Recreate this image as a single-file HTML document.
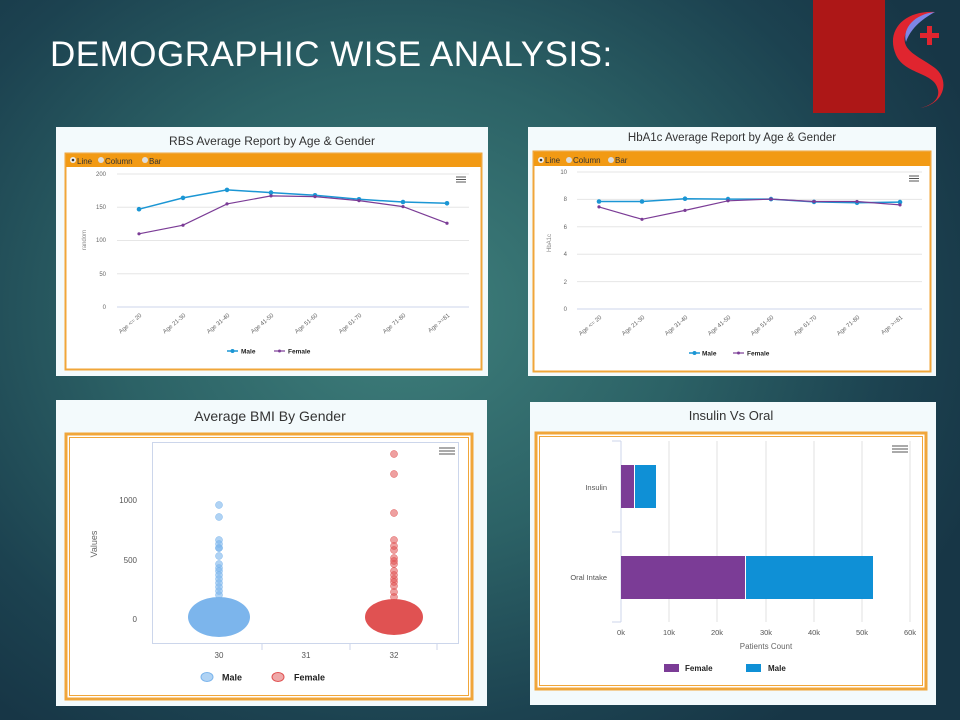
<!DOCTYPE html>
<html><head><meta charset="utf-8"><style>
html,body{margin:0;padding:0;width:960px;height:720px;overflow:hidden;}
body{background:radial-gradient(ellipse 620px 520px at 400px 310px,#3f807c 0%,#2c6266 45%,#1c4250 80%,#173646 100%);font-family:"Liberation Sans",sans-serif;}
svg{position:absolute;left:0;top:0}
</style></head><body>
<svg width="960" height="720" viewBox="0 0 960 720" font-family="Liberation Sans, sans-serif">
<!-- title -->
<text x="50" y="66" fill="#ffffff" font-size="35" letter-spacing="0.5">DEMOGRAPHIC WISE ANALYSIS:</text>
<!-- logo -->
<rect x="813" y="0" width="72" height="113" fill="#ad1717"/>
<path d="M935,12 C905,10 885,30 896,55 C905,75 935,72 938,90 C940,100 930,106 920,108 C945,104 950,80 935,68 C918,55 896,50 908,28 C914,18 925,14 935,12Z" fill="#e0252f"/>
<path d="M935,12 C915,14 902,28 906,42 C910,30 920,20 935,12Z" fill="#7d86e6"/>
<path d="M927,26 h5 v7 h7 v5 h-7 v7 h-5 v-7 h-7 v-5 h7z" fill="#e0252f"/>

<!-- card 1 -->
<rect x="56" y="127" width="432" height="249" fill="#f3fafc"/>
<text x="272" y="145" text-anchor="middle" font-size="12" fill="#333">RBS Average Report by Age &amp; Gender</text>
<rect x="65.5" y="153.5" width="416" height="216" fill="#fff" stroke="#f0a63a" stroke-width="2"/>
<rect x="66" y="154" width="415" height="13" fill="#f29a14"/>
<circle cx="73" cy="160" r="3" fill="#eee"/><circle cx="73" cy="160" r="1.3" fill="#333"/>
<text x="77" y="164" font-size="8" fill="#333">Line</text>
<circle cx="101" cy="160" r="3" fill="#ddd"/><text x="105" y="164" font-size="8" fill="#333">Column</text>
<circle cx="145" cy="160" r="3" fill="#ddd"/><text x="149" y="164" font-size="8" fill="#333">Bar</text>
<g stroke="#e6e6e6" stroke-width="1">
<line x1="117" y1="174" x2="469" y2="174"/><line x1="117" y1="207.3" x2="469" y2="207.3"/><line x1="117" y1="240.5" x2="469" y2="240.5"/><line x1="117" y1="273.8" x2="469" y2="273.8"/></g>
<line x1="117" y1="307" x2="469" y2="307" stroke="#ccd6eb"/>
<g font-size="6" fill="#666" text-anchor="end"><text x="106" y="176">200</text><text x="106" y="209">150</text><text x="106" y="242">100</text><text x="106" y="276">50</text><text x="106" y="309">0</text></g>
<text x="86" y="240" font-size="6" fill="#888" transform="rotate(-90 86 240)" text-anchor="middle">random</text>
<g font-size="6" fill="#666" text-anchor="end">
<text transform="translate(142,316) rotate(-40)">Age &lt;= 20</text><text transform="translate(186,316) rotate(-40)">Age 21-30</text><text transform="translate(230,316) rotate(-40)">Age 31-40</text><text transform="translate(274,316) rotate(-40)">Age 41-50</text><text transform="translate(318,316) rotate(-40)">Age 51-60</text><text transform="translate(362,316) rotate(-40)">Age 61-70</text><text transform="translate(406,316) rotate(-40)">Age 71-80</text><text transform="translate(450,316) rotate(-40)">Age &gt;=81</text></g>
<polyline fill="none" stroke="#1b96d4" stroke-width="1.5" points="139,209.2 183,197.9 227,189.9 271,192.6 315,195.3 359,199.3 403,202 447,203.3"/>
<g fill="#1b96d4"><circle cx="139" cy="209.2" r="2.3"/><circle cx="183" cy="197.9" r="2.3"/><circle cx="227" cy="189.9" r="2.3"/><circle cx="271" cy="192.6" r="2.3"/><circle cx="315" cy="195.3" r="2.3"/><circle cx="359" cy="199.3" r="2.3"/><circle cx="403" cy="202" r="2.3"/><circle cx="447" cy="203.3" r="2.3"/></g>
<polyline fill="none" stroke="#7b3c96" stroke-width="1.2" points="139,233.8 183,225.2 227,203.9 271,195.9 315,196.6 359,200.6 403,206.6 447,223.2"/>
<g fill="#7b3c96"><circle cx="139" cy="233.8" r="1.6"/><circle cx="183" cy="225.2" r="1.6"/><circle cx="227" cy="203.9" r="1.6"/><circle cx="271" cy="195.9" r="1.6"/><circle cx="315" cy="196.6" r="1.6"/><circle cx="359" cy="200.6" r="1.6"/><circle cx="403" cy="206.6" r="1.6"/><circle cx="447" cy="223.2" r="1.6"/></g>
<g stroke="#555" stroke-width="1"><line x1="456" y1="177" x2="466" y2="177"/><line x1="456" y1="179.5" x2="466" y2="179.5"/><line x1="456" y1="182" x2="466" y2="182"/></g>
<line x1="227" y1="351" x2="238" y2="351" stroke="#1b96d4" stroke-width="1.5"/><circle cx="232.5" cy="351" r="2" fill="#1b96d4"/>
<text x="241" y="353.5" font-size="6.5" font-weight="bold" fill="#222">Male</text>
<line x1="274" y1="351" x2="285" y2="351" stroke="#7b3c96" stroke-width="1.2"/><circle cx="279.5" cy="351" r="1.5" fill="#7b3c96"/>
<text x="288" y="353.5" font-size="6.5" font-weight="bold" fill="#222">Female</text>

<!-- card 2 -->
<rect x="528" y="127" width="408" height="249" fill="#f3fafc"/>
<text x="732" y="141" text-anchor="middle" font-size="11.5" fill="#333">HbA1c Average Report by Age &amp; Gender</text>
<rect x="533.5" y="151.5" width="397" height="220" fill="#fff" stroke="#f0a63a" stroke-width="2"/>
<rect x="534" y="152" width="396" height="14" fill="#f29a14"/>
<circle cx="541" cy="160" r="3" fill="#eee"/><circle cx="541" cy="160" r="1.3" fill="#333"/>
<text x="545" y="163" font-size="8" fill="#333">Line</text>
<circle cx="569" cy="160" r="3" fill="#ddd"/><text x="573" y="163" font-size="8" fill="#333">Column</text>
<circle cx="611" cy="160" r="3" fill="#ddd"/><text x="615" y="163" font-size="8" fill="#333">Bar</text>
<g stroke="#e6e6e6"><line x1="577" y1="172" x2="922" y2="172"/><line x1="577" y1="199.4" x2="922" y2="199.4"/><line x1="577" y1="226.8" x2="922" y2="226.8"/><line x1="577" y1="254.2" x2="922" y2="254.2"/><line x1="577" y1="281.6" x2="922" y2="281.6"/></g>
<line x1="577" y1="309" x2="922" y2="309" stroke="#ccd6eb"/>
<g font-size="6" fill="#666" text-anchor="end"><text x="567" y="174">10</text><text x="567" y="201">8</text><text x="567" y="229">6</text><text x="567" y="256">4</text><text x="567" y="284">2</text><text x="567" y="311">0</text></g>
<text x="551" y="243" font-size="6" fill="#888" transform="rotate(-90 551 243)" text-anchor="middle">HbA1c</text>
<g font-size="6" fill="#666" text-anchor="end">
<text transform="translate(602,318) rotate(-40)">Age &lt;= 20</text><text transform="translate(645,318) rotate(-40)">Age 21-30</text><text transform="translate(688,318) rotate(-40)">Age 31-40</text><text transform="translate(731,318) rotate(-40)">Age 41-50</text><text transform="translate(774,318) rotate(-40)">Age 51-60</text><text transform="translate(817,318) rotate(-40)">Age 61-70</text><text transform="translate(860,318) rotate(-40)">Age 71-80</text><text transform="translate(903,318) rotate(-40)">Age &gt;=81</text></g>
<polyline fill="none" stroke="#1b96d4" stroke-width="1.5" points="599,201.5 642,201.5 685,198.7 728,199.1 771,199.1 814,201.9 857,202.8 900,202.1"/>
<g fill="#1b96d4"><circle cx="599" cy="201.5" r="2.3"/><circle cx="642" cy="201.5" r="2.3"/><circle cx="685" cy="198.7" r="2.3"/><circle cx="728" cy="199.1" r="2.3"/><circle cx="771" cy="199.1" r="2.3"/><circle cx="814" cy="201.9" r="2.3"/><circle cx="857" cy="202.8" r="2.3"/><circle cx="900" cy="202.1" r="2.3"/></g>
<polyline fill="none" stroke="#7b3c96" stroke-width="1.2" points="599,206.9 642,219.3 685,210.4 728,200.8 771,199.1 814,201.5 857,201.5 900,204.9"/>
<g fill="#7b3c96"><circle cx="599" cy="206.9" r="1.6"/><circle cx="642" cy="219.3" r="1.6"/><circle cx="685" cy="210.4" r="1.6"/><circle cx="728" cy="200.8" r="1.6"/><circle cx="771" cy="199.1" r="1.6"/><circle cx="814" cy="201.5" r="1.6"/><circle cx="857" cy="201.5" r="1.6"/><circle cx="900" cy="204.9" r="1.6"/></g>
<g stroke="#555"><line x1="909" y1="176" x2="919" y2="176"/><line x1="909" y1="178.5" x2="919" y2="178.5"/><line x1="909" y1="181" x2="919" y2="181"/></g>
<line x1="689" y1="353" x2="700" y2="353" stroke="#1b96d4" stroke-width="1.5"/><circle cx="694.5" cy="353" r="2" fill="#1b96d4"/>
<text x="702" y="355.5" font-size="6.5" font-weight="bold" fill="#222">Male</text>
<line x1="733" y1="353" x2="744" y2="353" stroke="#7b3c96" stroke-width="1.2"/><circle cx="738.5" cy="353" r="1.5" fill="#7b3c96"/>
<text x="747" y="355.5" font-size="6.5" font-weight="bold" fill="#222">Female</text>

<!-- card 3 -->
<rect x="56" y="400" width="431" height="306" fill="#f3fafc"/>
<text x="270" y="421" text-anchor="middle" font-size="14" fill="#333">Average BMI By Gender</text>
<rect x="66" y="434" width="406" height="265" fill="#fff" stroke="#f0a63a" stroke-width="3"/>
<rect x="69.5" y="437.5" width="399" height="258" fill="none" stroke="#f0a63a" stroke-width="1"/>
<rect x="152.5" y="442.5" width="306" height="201" fill="#fff" stroke="#ccd6eb"/>
<g stroke="#ccd6eb"><line x1="262" y1="644" x2="262" y2="650"/><line x1="350" y1="644" x2="350" y2="650"/><line x1="437" y1="644" x2="437" y2="650"/></g>
<g font-size="8" fill="#555" text-anchor="end"><text x="137" y="503">1000</text><text x="137" y="563">500</text><text x="137" y="622">0</text></g>
<text x="97" y="544" font-size="9" fill="#666" transform="rotate(-90 97 544)" text-anchor="middle">Values</text>
<g font-size="8" fill="#555" text-anchor="middle"><text x="219" y="658">30</text><text x="306" y="658">31</text><text x="394" y="658">32</text></g>
<g fill="#7cb5ec" fill-opacity="0.6" stroke="#7cb5ec" stroke-width="0.5">
<circle cx="219" cy="505" r="3.5"/><circle cx="219" cy="517" r="3.5"/><circle cx="219" cy="540" r="3.5"/><circle cx="219" cy="544" r="3.5"/><circle cx="219" cy="548" r="3.5"/><circle cx="219" cy="548" r="3.5"/><circle cx="219" cy="556" r="3.5"/>
<circle cx="219" cy="564" r="3.5"/><circle cx="219" cy="568" r="3.5"/><circle cx="219" cy="571" r="3.5"/><circle cx="219" cy="575" r="3.5"/><circle cx="219" cy="579" r="3.5"/><circle cx="219" cy="583" r="3.5"/><circle cx="219" cy="587" r="3.5"/><circle cx="219" cy="591" r="3.5"/><circle cx="219" cy="595" r="3.5"/></g>
<ellipse cx="219" cy="617" rx="31" ry="20" fill="#7cb5ec"/>
<g fill="#e05252" fill-opacity="0.55" stroke="#e05252" stroke-width="0.5">
<circle cx="394" cy="454" r="3.5"/><circle cx="394" cy="474" r="3.5"/><circle cx="394" cy="513" r="3.5"/><circle cx="394" cy="540" r="3.5"/><circle cx="394" cy="546" r="3.5"/><circle cx="394" cy="550" r="3.5"/><circle cx="394" cy="558" r="3.5"/><circle cx="394" cy="561" r="3.5"/><circle cx="394" cy="564" r="3.5"/>
<circle cx="394" cy="571" r="3.5"/><circle cx="394" cy="575" r="3.5"/><circle cx="394" cy="579" r="3.5"/><circle cx="394" cy="582" r="3.5"/><circle cx="394" cy="586" r="3.5"/><circle cx="394" cy="592" r="3.5"/><circle cx="394" cy="597" r="3.5"/></g>
<ellipse cx="394" cy="617" rx="29" ry="18" fill="#e05252"/>
<g stroke="#555"><line x1="439" y1="448" x2="455" y2="448"/><line x1="439" y1="451" x2="455" y2="451"/><line x1="439" y1="454" x2="455" y2="454"/></g>
<ellipse cx="207" cy="677" rx="6" ry="4.5" fill="#7cb5ec" fill-opacity="0.6" stroke="#7cb5ec"/>
<text x="222" y="680.5" font-size="9" font-weight="bold" fill="#222">Male</text>
<ellipse cx="278" cy="677" rx="6" ry="4.5" fill="#e05252" fill-opacity="0.5" stroke="#e05252"/>
<text x="294" y="680.5" font-size="9" font-weight="bold" fill="#222">Female</text>

<!-- card 4 -->
<rect x="530" y="402" width="406" height="303" fill="#f3fafc"/>
<text x="731" y="420" text-anchor="middle" font-size="13" fill="#333">Insulin Vs Oral</text>
<rect x="536" y="433" width="390" height="256" fill="#fff" stroke="#f0a63a" stroke-width="3"/>
<rect x="539.5" y="436.5" width="383" height="249" fill="none" stroke="#f0a63a" stroke-width="1"/>
<g stroke="#e0e0e0"><line x1="669" y1="441" x2="669" y2="622"/><line x1="717" y1="441" x2="717" y2="622"/><line x1="766" y1="441" x2="766" y2="622"/><line x1="814" y1="441" x2="814" y2="622"/><line x1="862" y1="441" x2="862" y2="622"/><line x1="910" y1="441" x2="910" y2="622"/></g>
<g stroke="#ccd6eb"><line x1="621" y1="441" x2="621" y2="622"/><line x1="612" y1="441" x2="621" y2="441"/><line x1="612" y1="532" x2="621" y2="532"/><line x1="612" y1="622" x2="621" y2="622"/></g>
<rect x="621" y="465" width="13" height="43" fill="#7b3c96"/>
<rect x="635" y="465" width="21" height="43" fill="#0f90d6"/>
<rect x="621" y="556" width="124" height="43" fill="#7b3c96"/>
<rect x="746" y="556" width="127" height="43" fill="#0f90d6"/>
<g font-size="7.5" fill="#555" text-anchor="end"><text x="607" y="490">Insulin</text><text x="607" y="580">Oral Intake</text></g>
<g font-size="7.5" fill="#555" text-anchor="middle"><text x="621" y="635">0k</text><text x="669" y="635">10k</text><text x="717" y="635">20k</text><text x="766" y="635">30k</text><text x="814" y="635">40k</text><text x="862" y="635">50k</text><text x="910" y="635">60k</text></g>
<text x="766" y="649" font-size="8" fill="#666" text-anchor="middle">Patients Count</text>
<g stroke="#555"><line x1="892" y1="446" x2="908" y2="446"/><line x1="892" y1="449" x2="908" y2="449"/><line x1="892" y1="452" x2="908" y2="452"/></g>
<rect x="664" y="664" width="15" height="8" fill="#7b3c96"/>
<text x="685" y="671" font-size="8" font-weight="bold" fill="#222">Female</text>
<rect x="746" y="664" width="15" height="8" fill="#0f90d6"/>
<text x="768" y="671" font-size="8" font-weight="bold" fill="#222">Male</text>
</svg>
</body></html>
